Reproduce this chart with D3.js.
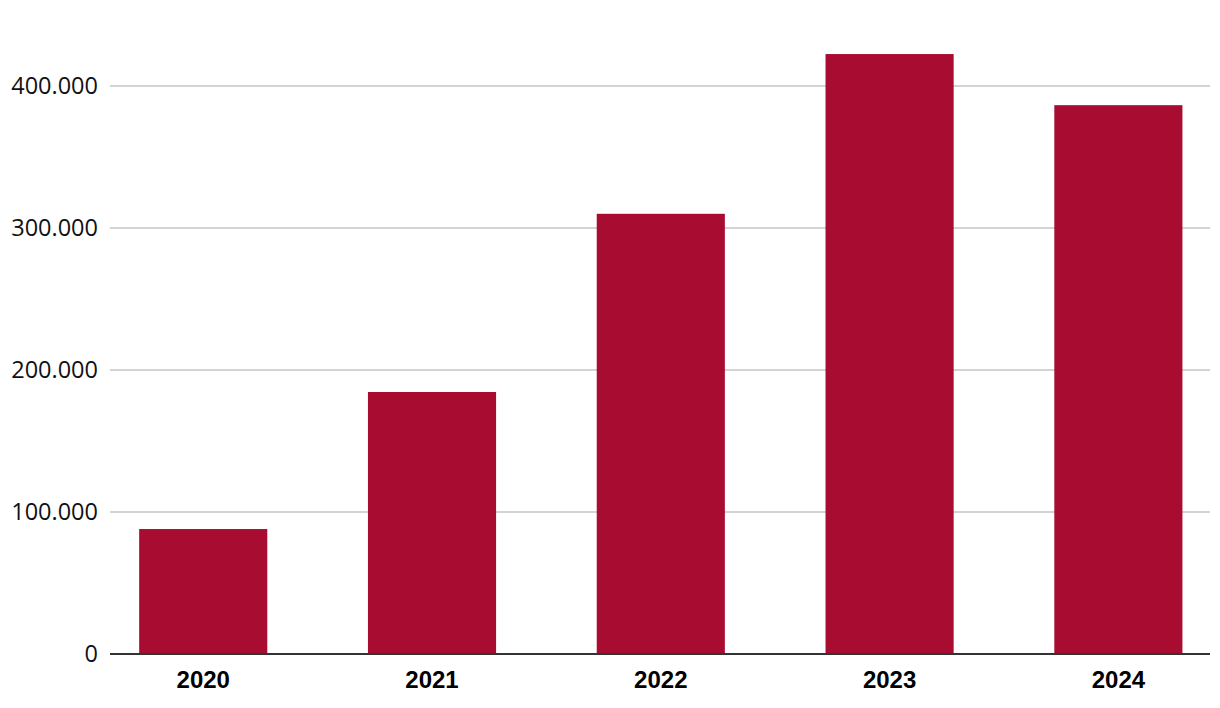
<!DOCTYPE html>
<html>
<head>
<meta charset="utf-8">
<script src="https://cdn.jsdelivr.net/npm/d3@7"></script>
<style>
  html, body { margin: 0; padding: 0; background: #fff; }
  svg { display: block; }
</style>
</head>
<body>
<svg id="chart" width="1220" height="708"></svg>
<script>
const categories = ["2020", "2021", "2022", "2023", "2024"];
const values = [88000, 184500, 310000, 422500, 386500];
const yTicks = [0, 100000, 200000, 300000, 400000];

const svg = d3.select("#chart");
const left = 110, right = 1210, y0 = 654, yTop = 86;

const x = d3.scaleBand().domain(categories).range([left + 0.8, right + 0.8])
  .paddingInner(0.44).paddingOuter(0.124);
const y = d3.scaleLinear().domain([0, 400000]).range([y0, yTop]);

const fmt = v => d3.format(",")(v).replace(/,/g, ".");

// gridlines
svg.append("g").selectAll("line").data(yTicks.filter(d => d > 0)).join("line")
  .attr("x1", left).attr("x2", right)
  .attr("y1", d => y(d)).attr("y2", d => y(d))
  .attr("stroke", "#c4c4c4").attr("stroke-width", 1.5);

// y labels
const yAxis = d3.axisLeft(y).tickValues(yTicks).tickFormat(fmt).tickSize(0).tickPadding(12);
const ga = svg.append("g").attr("transform", `translate(${left},0)`).call(yAxis);
ga.select(".domain").remove();
ga.selectAll("text").attr("font-family", "'Open Sans', sans-serif")
  .attr("font-size", 23.5).attr("fill", "#111");

// bars
svg.append("g").selectAll("rect").data(categories).join("rect")
  .attr("x", d => x(d)).attr("width", x.bandwidth())
  .attr("y", (d, i) => y(values[i])).attr("height", (d, i) => y0 - y(values[i]))
  .attr("fill", "#a80c30");

// x axis
const xAxis = d3.axisBottom(x).tickSize(0).tickPadding(17);
const gx = svg.append("g").attr("transform", `translate(0,${y0})`).call(xAxis);
gx.select(".domain").attr("stroke", "#333").attr("stroke-width", 2).attr("d", `M${left},0H${right}`);
gx.selectAll("text").attr("font-family", "'Liberation Sans', Arial, sans-serif")
  .attr("font-weight", "bold").attr("font-size", 24).attr("fill", "#000");
</script>
</body>
</html>
